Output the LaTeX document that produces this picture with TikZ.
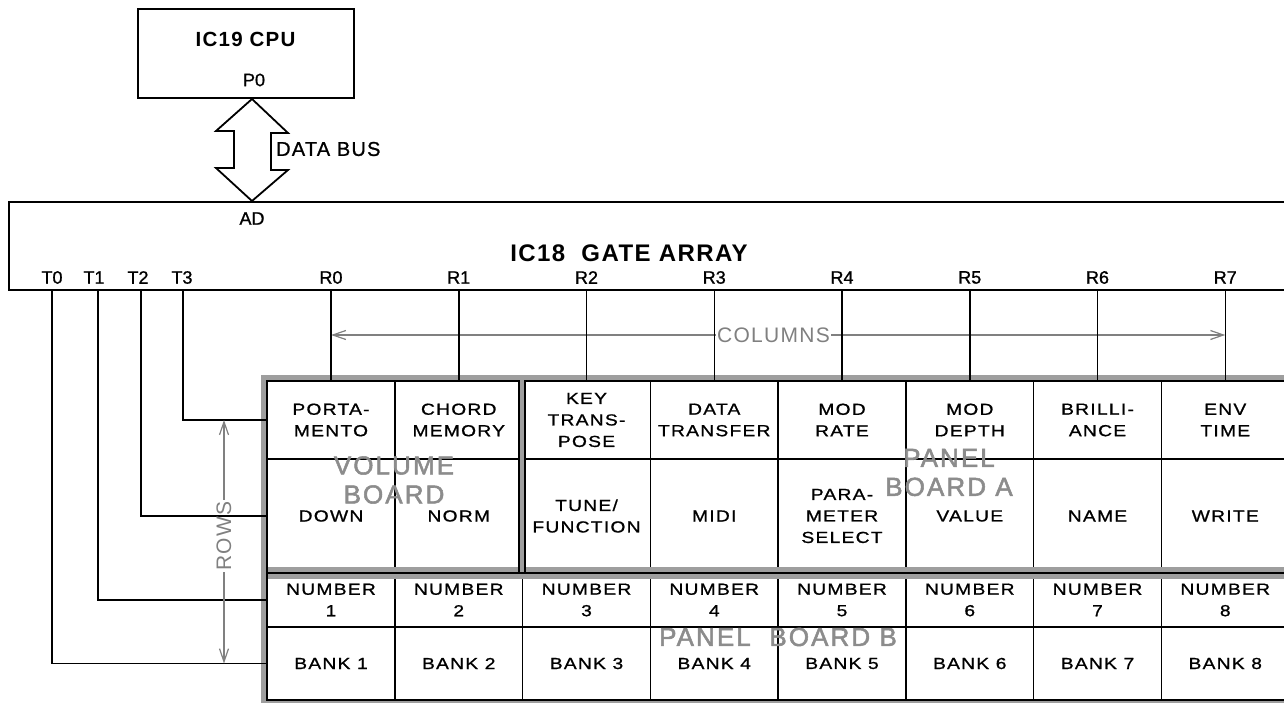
\documentclass[tikz,border=0pt]{standalone}
\usepackage{fontspec}
\setmainfont{Liberation Sans}
\newfontfamily\cellfont[FakeStretch=1.2,LetterSpace=8,FakeBold=1]{Liberation Sans}
\newfontfamily\pinfont[FakeBold=1]{Liberation Sans}
\newfontfamily\busfont[LetterSpace=6,FakeBold=1]{Liberation Sans}
\newfontfamily\ttlfont[LetterSpace=6]{Liberation Sans}
\newfontfamily\ghostfont[LetterSpace=8,FakeBold=2]{Liberation Sans}
\usetikzlibrary{arrows.meta}
\begin{document}
\begin{tikzpicture}[x=1pt,y=-1pt,
  wire/.style={line width=1.5pt},
  box/.style={draw, line width=2pt, inner sep=0pt},
  pin/.style={font=\pinfont\fontsize{18}{20}\selectfont, inner sep=0pt},
  cell/.style={draw, line width=1.3pt, inner sep=0pt, minimum width=127.75pt, minimum height=#1, align=center, font=\cellfont\fontsize{16}{21.5}\selectfont},
  ghost/.style={text=black!45, font=\ghostfont\fontsize{26}{29}\selectfont, align=center, inner sep=0pt},
  guide/.style={draw=black!50, line width=1.2pt, -{Straight Barb[length=13pt,width=9pt]}},
  guidetext/.style={text=black!50, font=\ttlfont\fontsize{21}{24}\selectfont, inner sep=1.5pt},
  grayband/.style={draw=black!38, line width=6pt},
  boardline/.style={draw=black, line width=2.4pt},
]
\useasboundingbox (0,0) rectangle (1284,703);
\clip (0,0) rectangle (1284,703);

% ---------- matrix cells ----------
\node[cell=78pt] (c11) at (331,420) {PORTA-\\MENTO};
\node[cell=78pt] (c21) at (458.75,420) {CHORD\\MEMORY};
\node[cell=78pt] (c31) at (586.5,420) {KEY\\TRANS-\\POSE};
\node[cell=78pt] (c41) at (714.25,420) {DATA\\TRANSFER};
\node[cell=78pt] (c51) at (842,420) {MOD\\RATE};
\node[cell=78pt] (c61) at (969.75,420) {MOD\\DEPTH};
\node[cell=78pt] (c71) at (1097.5,420) {BRILLI-\\ANCE};
\node[cell=78pt] (c81) at (1225.25,420) {ENV\\TIME};

\node[cell=114pt] (c12) at (331,516) {DOWN};
\node[cell=114pt] (c22) at (458.75,516) {NORM};
\node[cell=114pt] (c32) at (586.5,516) {TUNE/\\FUNCTION};
\node[cell=114pt] (c42) at (714.25,516) {MIDI};
\node[cell=114pt] (c52) at (842,516) {PARA-\\METER\\SELECT};
\node[cell=114pt] (c62) at (969.75,516) {VALUE};
\node[cell=114pt] (c72) at (1097.5,516) {NAME};
\node[cell=114pt] (c82) at (1225.25,516) {WRITE};

\foreach \i in {1,...,8}{
  \node[cell=54pt] (c\i3) at ({331+127.75*(\i-1)},600) {NUMBER\\\i};
  \node[cell=73pt] (c\i4) at ({331+127.75*(\i-1)},663.5) {BANK \i};
}

% ---------- board outlines ----------
\draw[grayband] (264,378) rectangle (522,576);
\draw[grayband] (522,378) rectangle (1303,576);
\draw[grayband] (264,570) rectangle (1303,703);
\draw[boardline] (267,381) rectangle (519,573);
\draw[boardline] (525,381) rectangle (1300,573);
\draw[boardline] (267,573) rectangle (1300,700);

% ---------- chips ----------
\node[box, minimum width=216pt, minimum height=89pt, anchor=north west] (cpu) at (137,8) {};
\node[font=\ttlfont\bfseries\fontsize{20.5}{24}\selectfont] (cputitle) at (245.5,39) {IC19 CPU};
\node[pin] (p0) at (254,80) {P0};

\node[box, minimum width=1300pt, minimum height=88pt, anchor=north west] (gate) at (8,201) {};
\node[pin] (ad) at (252,218.5) {AD};
\node[font=\ttlfont\bfseries\fontsize{24}{26}\selectfont] (gatetitle) at (629,253) {IC18\ \ GATE ARRAY};

% ---------- data bus ----------
\coordinate (bt) at (cpu.south -| ad);
\coordinate (bb) at (gate.north -| ad);
\draw[line width=1.8pt, fill=white, line join=miter] (bt) -- ++(36,34) -- ++(-17,0) -- ++(0,37) -- ++(17,0) -- (bb) -- ++(-36,-33) -- ++(18,0) -- ++(0,-37) -- ++(-18,0) -- cycle;
\node[anchor=west, font=\busfont\fontsize{20}{22}\selectfont, inner sep=0pt] (databus) at (276,149) {DATA BUS};

% ---------- pins ----------
\coordinate (pinrow) at (0,277.5);
\node[pin] (lt0) at (52,277.5) {T0};
\node[pin] (lt1) at (94,277.5) {T1};
\node[pin] (lt2) at (138,277.5) {T2};
\node[pin] (lt3) at (182,277.5) {T3};
\coordinate (t0) at (52,289);
\coordinate (t1) at (98,289);
\coordinate (t2) at (141,289);
\coordinate (t3) at (183,289);
\draw[wire] (t3) |- (c11.west);
\draw[wire] (t2) |- (c12.west);
\draw[wire] (t1) |- (c13.west);
\draw[wire] (t0) |- (c14.west);

% ---------- guides ----------
\node[guidetext, fill=white] (cols) at (773.5,335) {COLUMNS};
\draw[guide] (cols.west) -- (cols.west -| c11.north);
\draw[guide] (cols.east) -- (cols.east -| c81.north);
\node[guidetext, rotate=90] (rows) at (224,536) {ROWS};
\draw[guide] (rows.east) -- (rows.east |- c11.west);
\draw[guide] (rows.west) -- (rows.west |- c14.west);

\foreach \i/\r in {1/0,2/1,3/2,4/3,5/4,6/5,7/6,8/7}{
  \node[pin] (lr\r) at (c\i1 |- pinrow) {R\r};
  \draw[wire] (c\i1.north |- gate.south) -- (c\i1.north);
}

% ---------- board names ----------
\node[ghost] (volname) at (394,480) {VOLUME\\BOARD};
\node[ghost] (pananame) at (949,472.5) {PANEL\\BOARD A};
\node[ghost] (panbname) at (778,637) {PANEL\ \ BOARD B};
\end{tikzpicture}
\end{document}
